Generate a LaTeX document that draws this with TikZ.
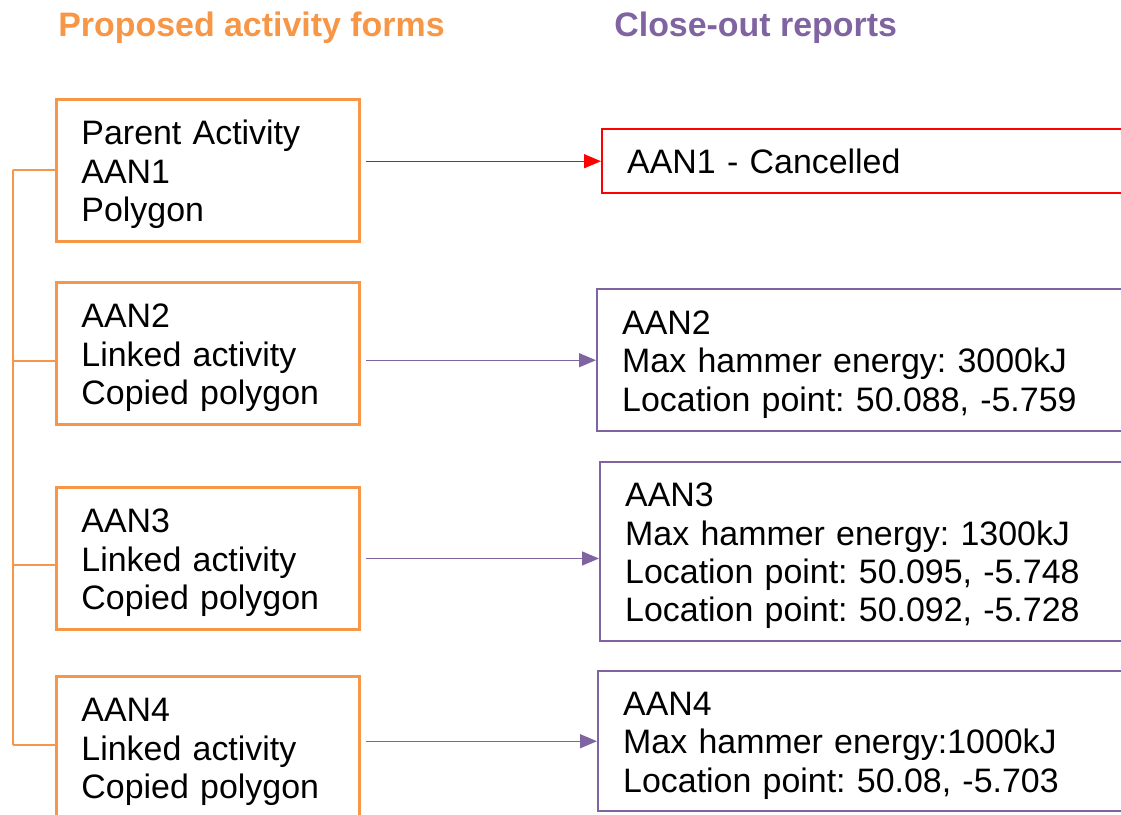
\documentclass[tikz,border=0pt]{standalone}
\usepackage{fontspec}
\setmainfont{Liberation Sans}
\usetikzlibrary{arrows.meta, positioning}
\definecolor{formorange}{RGB}{247,150,70}
\definecolor{reportpurple}{RGB}{128,100,162}

\begin{document}
\begin{tikzpicture}[x=0.02cm,y=-0.02cm,
 every node/.style={font=\fontsize{19.3}{21.8}\selectfont\frenchspacing},
 form node/.style={draw=formorange,line width=1.7pt,anchor=north west,align=left,
   text width=5.06cm,inner xsep=0.5cm,inner ysep=0pt,text height=0.65cm,minimum height=2.84cm},
 report node/.style={draw=reportpurple,line width=1.4pt,anchor=north west,align=left,
   text width=10cm,inner xsep=0.5cm,inner ysep=0pt,text height=0.65cm},
 link/.style={-{Triangle[length=0.34cm,width=0.28cm]},line width=0.8pt,reportpurple},
 title/.style={anchor=base west,inner sep=0pt,font=\fontsize{19.3}{21.8}\selectfont\bfseries}]

  \useasboundingbox (0,0) rectangle (1121,814);

  \node[title,text=formorange] (forms title) at (58,37) {Proposed activity forms};
  \node[title,text=reportpurple] (reports title) at (614,37) {Close-out reports};

  \node[form node] (AAN1) at (55,98) {Parent Activity\\AAN1\\Polygon};
  \node[form node] (AAN2) at (55,281) {AAN2\\Linked activity\\Copied polygon};
  \node[form node] (AAN3) at (55,486) {AAN3\\Linked activity\\Copied polygon};
  \node[form node] (AAN4) at (55,675) {AAN4\\Linked activity\\Copied polygon};

  \node[report node,draw=red,text height=0.51cm,minimum height=1.28cm] (AAN1 report) at (601,128) {AAN1 - Cancelled};
  \node[report node,minimum height=2.84cm] (AAN2 report) at (596,288)
    {AAN2\\Max hammer energy: 3000kJ\\Location point: 50.088, -5.759};
  \node[report node,minimum height=3.58cm] (AAN3 report) at (599,461)
    {AAN3\\Max hammer energy: 1300kJ\\Location point: 50.095, -5.748\\Location point: 50.092, -5.728};
  \node[report node,minimum height=2.8cm] (AAN4 report) at (597,670)
    {AAN4\\Max hammer energy:1000kJ\\Location point: 50.08, -5.703};

  % bracket joining the forms
  \coordinate (s1) at (13,170);
  \coordinate (s2) at (13,361);
  \coordinate (s3) at (13,565);
  \coordinate (s4) at (13,745);
  \draw[formorange,line width=0.8pt] (s1) -- (s4);
  \foreach \s/\t in {s1/AAN1, s2/AAN2, s3/AAN3, s4/AAN4}
   \draw[formorange,line width=0.8pt] (\s) -- (\s -| \t.west);

  \draw[link,red] ([xshift=0.1cm]AAN1.east |- AAN1 report.west) -- (AAN1 report.west);
  \foreach \n in {AAN2, AAN4}
   \draw[link] ([xshift=0.1cm]\n.east |- \n\space report.west) -- (\n\space report.west);
  \draw[link] ([xshift=0.1cm]AAN3.east) -- (AAN3.east -| AAN3 report.west);
\end{tikzpicture}
\end{document}
